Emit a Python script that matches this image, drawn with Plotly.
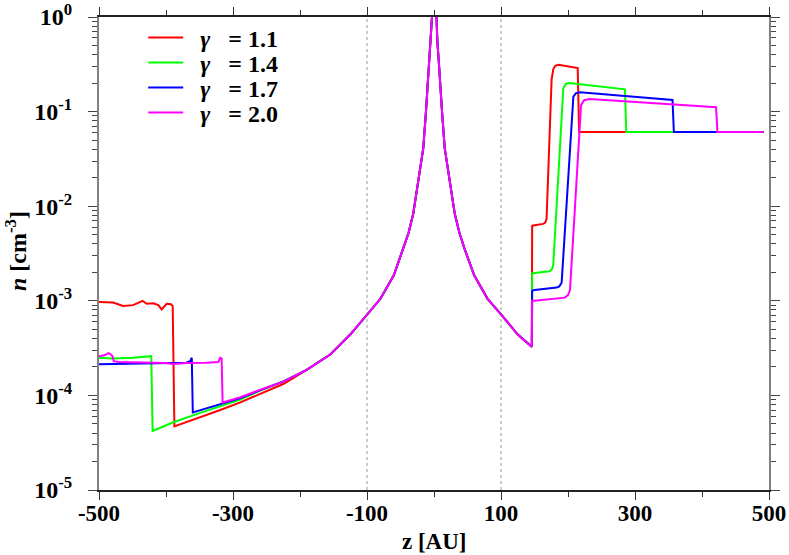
import plotly.graph_objects as go

# density profile shared by all four runs near the source
core_z = [-190, -155, -125, -100, -80, -60, -46, -38, -31, -25, -20, -16, -12, -9, -7, -5, -3, 0,
          3, 5, 7, 9, 12, 16, 20, 25, 31, 38, 46, 60, 80, 100, 113, 125, 146]
core_n = [1.86e-4, 2.7e-4, 4.4e-4, 7.2e-4, 1.05e-3, 1.86e-3, 3.47e-3, 5.2e-3, 8.3e-3, 0.0151, 0.026, 0.041,
          0.1, 0.2, 0.35, 0.55, 1.0, 6.0,
          1.0, 0.55, 0.35, 0.2, 0.1, 0.041, 0.026, 0.0151, 8.3e-3, 5.2e-3, 3.47e-3, 1.86e-3, 1.05e-3, 7.2e-4,
          5.5e-4, 4.4e-4, 3.27e-4]

# gamma = 1.1
red_left_z = [-500, -479, -464, -449, -435, -429, -419, -411.5, -406.5, -399, -392.5, -390, -387.5,
              -350, -319, -290, -260, -225]
red_left_n = [9.7e-4, 9.6e-4, 8.8e-4, 9.0e-4, 1.0e-3, 9.3e-4, 9.4e-4, 9.0e-4, 8.1e-4, 9.3e-4, 9.2e-4,
              8.8e-4, 4.7e-5, 5.8e-5, 7.0e-5, 8.4e-5, 1.03e-4, 1.32e-4]
red_right_z = [146.5, 150, 163, 166, 168, 175.5, 178, 181, 186, 214.5, 216.5, 492]
red_right_n = [6.2e-3, 6.3e-3, 6.5e-3, 6.7e-3, 7.3e-3, 0.216, 0.28, 0.305, 0.313, 0.288, 0.061, 0.061]

# gamma = 1.4
green_left_z = [-500, -480, -450, -424, -422, -420, -389, -350, -290, -260, -225]
green_left_n = [2.5e-4, 2.45e-4, 2.5e-4, 2.55e-4, 2.6e-4, 4.2e-5, 5.2e-5, 6.5e-5, 9.0e-5, 1.12e-4, 1.41e-4]
green_right_z = [146.5, 150, 172, 176, 178, 193, 197, 202, 285, 287, 492]
green_right_n = [1.95e-3, 1.97e-3, 2.05e-3, 2.15e-3, 2.4e-3, 0.176, 0.197, 0.2, 0.172, 0.061, 0.061]

# gamma = 1.7
blue_left_z = [-500, -450, -400, -370, -364, -361.5, -360, -330, -290, -260, -225]
blue_left_n = [2.14e-4, 2.18e-4, 2.2e-4, 2.22e-4, 2.3e-4, 2.5e-4, 6.6e-5, 7.7e-5, 9.3e-5, 1.13e-4, 1.4e-4]
blue_right_z = [146.5, 150, 183, 187, 190.5, 208, 212, 218, 356, 358, 492]
blue_right_n = [1.28e-3, 1.3e-3, 1.38e-3, 1.42e-3, 1.55e-3, 0.144, 0.157, 0.16, 0.133, 0.061, 0.061]

# gamma = 2.0
pink_left_z = [-500, -492, -486, -483.5, -480, -478, -470, -440, -400, -390, -370, -340, -322, -319,
               -317, -315.5, -290, -260, -225]
pink_left_n = [2.6e-4, 2.65e-4, 2.8e-4, 2.75e-4, 2.6e-4, 2.3e-4, 2.25e-4, 2.22e-4, 2.2e-4, 2.15e-4,
               2.2e-4, 2.22e-4, 2.25e-4, 2.5e-4, 2.45e-4, 8.4e-5, 9.5e-5, 1.14e-4, 1.4e-4]
pink_right_z = [146.5, 150, 195, 200, 203, 219.5, 224, 232, 421, 423, 492]
pink_right_n = [1.0e-3, 1.0e-3, 1.08e-3, 1.15e-3, 1.3e-3, 0.117, 0.132, 0.136, 0.111, 0.061, 0.061]

gammas = ["1.1", "1.4", "1.7", "2.0"]
colors = ["#ff0000", "#00ff00", "#0000ff", "#ff00ff"]
lefts = [(red_left_z, red_left_n), (green_left_z, green_left_n),
         (blue_left_z, blue_left_n), (pink_left_z, pink_left_n)]
rights = [(red_right_z, red_right_n), (green_right_z, green_right_n),
          (blue_right_z, blue_right_n), (pink_right_z, pink_right_n)]

guide_z = [-100, 100]
xtick_vals = [-500, -300, -100, 100, 300, 500]
xtick_text = ["-500", "-300", "-100", "100", "300", "500"]
ytick_vals = [1, 1e-1, 1e-2, 1e-3, 1e-4, 1e-5]
ytick_text = ["10<sup>0</sup>", "10<sup>-1</sup>", "10<sup>-2</sup>",
              "10<sup>-3</sup>", "10<sup>-4</sup>", "10<sup>-5</sup>"]
yminor_vals = [m * 10.0 ** e for e in range(-5, 0) for m in range(2, 10)]

FONT = "Liberation Serif"
NB = "\u00a0"

fig = go.Figure()
legend_ids = ["legend", "legend2", "legend3", "legend4"]
for g, c, (lz, ln), (rz, rn), lid in zip(gammas, colors, lefts, rights, legend_ids):
    fig.add_trace(go.Scatter(
        x=lz + core_z + rz,
        y=ln + core_n + rn,
        mode="lines",
        line=dict(color=c, width=2),
        name=f"{NB}{NB}<i>γ</i>{NB * 3}={NB}{g}",
        legend=lid,
    ))

for gz in guide_z:
    fig.add_shape(type="line", xref="x", yref="paper", x0=gz, x1=gz, y0=0, y1=1,
                  line=dict(color="#999999", width=1, dash="dot"), layer="below")

# one legend box per entry so the rows sit as close as in the original
legend_rows = [0.956, 0.903, 0.850, 0.797]
legend_boxes = {}
for lid, ly in zip(legend_ids, legend_rows):
    legend_boxes[lid] = dict(
        x=0.066, y=ly, xanchor="left", yanchor="middle",
        bgcolor="rgba(0,0,0,0)",
        font=dict(family=FONT, size=24, weight="bold"),
        itemwidth=35,
    )

fig.add_annotation(text="z [AU]", xref="paper", yref="paper", x=0.5, y=-0.109,
                   xanchor="center", yanchor="middle", showarrow=False,
                   font=dict(family=FONT, size=23, weight="bold"))
fig.add_annotation(text="<i>n</i> [cm<sup>-3</sup>]", xref="paper", yref="paper", x=-0.124, y=0.505,
                   xanchor="center", yanchor="middle", textangle=-90, showarrow=False,
                   font=dict(family=FONT, size=24, weight="bold"))

fig.update_layout(
    width=789,
    height=555,
    margin=dict(l=99, r=20, t=17, b=65),
    paper_bgcolor="white",
    plot_bgcolor="white",
    font=dict(family=FONT, size=20, color="black", weight="bold"),
    showlegend=True,
    **legend_boxes,
    xaxis=dict(
        range=[-500, 500],
        tickvals=xtick_vals,
        ticktext=xtick_text,
        ticks="outside", ticklen=8, tickwidth=1, tickcolor="#333",
        showline=True, linecolor="#222", linewidth=1.5, mirror="ticks",
        showgrid=False, zeroline=False, automargin=False,
        minor=dict(dtick=100, tick0=0, ticks="outside", ticklen=5, tickcolor="#333", showgrid=False),
        tickfont=dict(family=FONT, size=23, weight="bold"),
        ticklabelstandoff=-6,
    ),
    yaxis=dict(
        type="log",
        range=[-5, 0],
        tickvals=ytick_vals,
        ticktext=ytick_text,
        ticks="outside", ticklen=9, tickwidth=1, tickcolor="#444",
        showline=True, linecolor="#808080", linewidth=2, mirror="ticks",
        showgrid=False, zeroline=False, automargin=False,
        minor=dict(tickvals=yminor_vals, ticks="outside", ticklen=5, tickcolor="#444", showgrid=False),
        tickfont=dict(family=FONT, size=24, weight="bold"),
        ticklabelstandoff=11,
    ),
)

# the page's default body margin would shift the figure off the window
fig.write_html("out.html", config={"displayModeBar": False},
               post_script="document.body.style.margin='0';")
